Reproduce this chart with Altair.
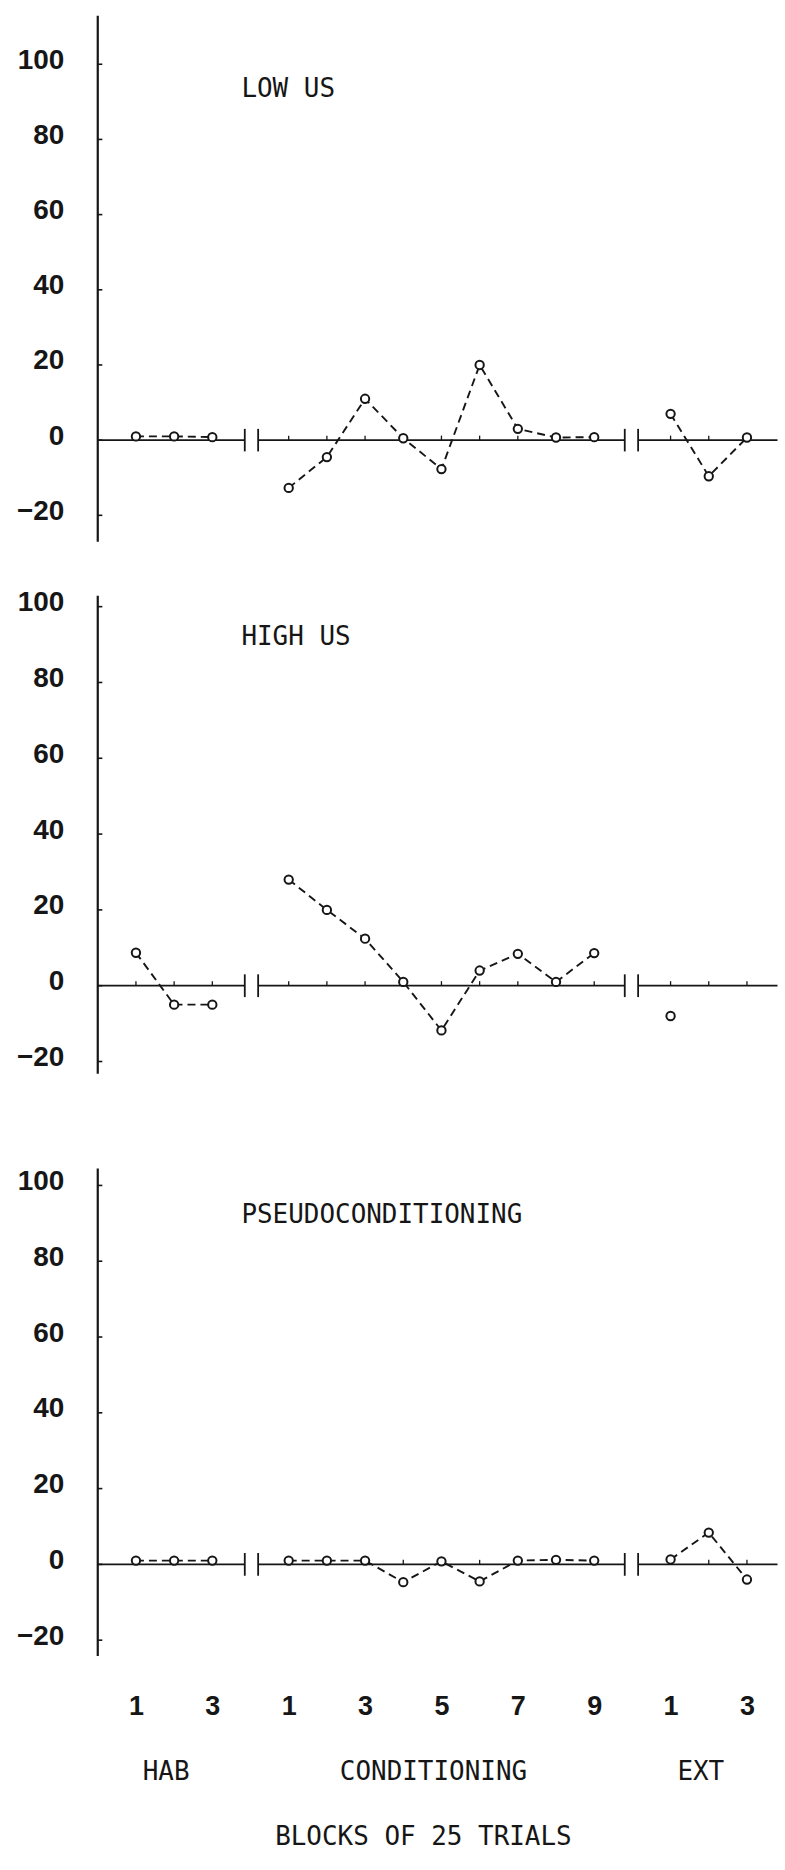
import altair as alt
import pandas as pd

# ---------------- data ----------------
panel_titles = ["LOW US", "HIGH US", "PSEUDOCONDITIONING"]
phases = ["HAB", "CONDITIONING", "EXT"]
hab_x = [0, 1, 2]
cond_x = [4, 5, 6, 7, 8, 9, 10, 11, 12]
ext_x = [14, 15, 16]

low_hab = [1.0, 1.0, 0.8]
low_cond = [-12.7, -4.5, 11.0, 0.5, -7.7, 20.0, 3.0, 0.7, 0.8]
low_ext = [7.0, -9.6, 0.7]

high_hab = [8.7, -5.0, -5.0]
high_cond = [28.0, 20.0, 12.4, 1.0, -11.8, 4.0, 8.4, 1.0, 8.6]
high_ext = [-8.0, None, None]

pseudo_hab = [1.0, 1.0, 1.0]
pseudo_cond = [1.0, 1.0, 1.0, -4.7, 0.8, -4.5, 1.0, 1.2, 1.0]
pseudo_ext = [1.3, 8.4, -4.0]

y_tick_values = [-20, 0, 20, 40, 60, 80, 100]
x_tick_positions = [0, 2, 4, 6, 8, 10, 12, 14, 16]
x_tick_labels = ["1", "3", "1", "3", "5", "7", "9", "1", "3"]
x_title = "BLOCKS OF 25 TRIALS"

# ---------------- layout / style ----------------
INK = "#161616"
DIGIT_FONT = "Liberation Sans"
TYPE_FONT = "DejaVu Sans Mono"
W = 688
X_DOMAIN = [-1, 16.97]
segments = [(-1, 2.85), (3.2, 12.8), (13.15, 16.8)]
breaks = [2.85, 3.2, 12.8, 13.15]

panels = [
    dict(title=panel_titles[0], series=(low_hab, low_cond, low_ext), height=560,
         ydom=[-32.4, 116.2], ytop=112.9, ybot=-27.0, title_y=86),
    dict(title=panel_titles[1], series=(high_hab, high_cond, high_ext), height=540,
         ydom=[-30.3, 111.8], ytop=102.9, ybot=-23.2, title_y=75),
    dict(title=panel_titles[2], series=(pseudo_hab, pseudo_cond, pseudo_ext), height=590,
         ydom=[-32.9, 122.4], ytop=104.5, ybot=-24.2, title_y=115),
]

label_expr = " : ".join(
    f"datum.value == {p} ? '{l}'" for p, l in zip(x_tick_positions, x_tick_labels)
) + " : ''"


def make_panel(cfg, bottom):
    yscale = alt.Scale(domain=cfg["ydom"], nice=False, zero=False)
    xscale = alt.Scale(domain=X_DOMAIN, nice=False, zero=False)
    yaxis = alt.Axis(values=y_tick_values, domain=False, ticks=False, tickSize=0,
                     grid=False, labelFont=DIGIT_FONT, labelFontSize=28,
                     labelFontWeight="bold", labelColor=INK, labelPadding=34,
                     labelOffset=-4, title=None)
    if bottom:
        xaxis = alt.Axis(values=x_tick_positions, labelExpr=label_expr, domain=False,
                         ticks=False, tickSize=0, grid=False, labelFont=DIGIT_FONT,
                         labelFontSize=27, labelFontWeight="bold", labelColor=INK,
                         labelPadding=18, labelBaseline="middle", labelAngle=0,
                         title=x_title, titleFont=TYPE_FONT, titleFontSize=26,
                         titleFontWeight="normal", titleColor=INK, titleX=326,
                         titleY=148, titleBaseline="middle", titleAlign="center")
    else:
        xaxis = None

    def X(f):
        return alt.X(f, type="quantitative", scale=xscale, axis=xaxis)

    def Y(f):
        return alt.Y(f, type="quantitative", scale=yscale, axis=yaxis)

    # y-axis line and inward ticks
    yline = alt.Chart(pd.DataFrame({"x": [X_DOMAIN[0]], "y": [cfg["ytop"]], "y2": [cfg["ybot"]]})).mark_rule(
        color=INK, strokeWidth=2.2).encode(x=X("x"), y=Y("y"), y2="y2")
    yt = pd.DataFrame({"x": X_DOMAIN[0], "x2": X_DOMAIN[0] + 0.12, "y": y_tick_values})
    yticks = alt.Chart(yt).mark_rule(color=INK, strokeWidth=1.6).encode(x=X("x"), x2="x2", y=Y("y"))

    # broken x axis at zero
    seg = pd.DataFrame({"x": [s[0] for s in segments], "x2": [s[1] for s in segments], "y": 0})
    xline = alt.Chart(seg).mark_rule(color=INK, strokeWidth=1.8).encode(x=X("x"), x2="x2", y=Y("y"))
    brk = pd.DataFrame({"x": breaks, "y": -3.0, "y2": 3.0})
    brks = alt.Chart(brk).mark_rule(color=INK, strokeWidth=1.8).encode(x=X("x"), y=Y("y"), y2="y2")
    xt = pd.DataFrame({"x": hab_x + cond_x + ext_x, "y": 0.0, "y2": 1.2})
    xticks = alt.Chart(xt).mark_rule(color=INK, strokeWidth=1.3).encode(x=X("x"), y=Y("y"), y2="y2")

    # data
    rows = []
    for ph, xs, vals in zip(phases, (hab_x, cond_x, ext_x), cfg["series"]):
        for xv, v in zip(xs, vals):
            if v is not None:
                rows.append({"x": xv, "y": v, "phase": ph})
    df = pd.DataFrame(rows)
    line = alt.Chart(df).mark_line(color=INK, strokeWidth=1.9, strokeDash=[8, 5]).encode(
        x=X("x"), y=Y("y"), detail="phase:N")
    pts = alt.Chart(df).mark_point(shape="circle", filled=True, fill="white", stroke=INK,
                                   strokeWidth=2, size=70, opacity=1).encode(x=X("x"), y=Y("y"))

    title = alt.Chart(pd.DataFrame({"t": [cfg["title"]]})).mark_text(
        font=TYPE_FONT, fontSize=26, color=INK, align="left", baseline="middle").encode(
        x=alt.value(144), y=alt.value(cfg["title_y"]), text="t:N")

    layers = [yline, yticks, xline, brks, xticks, line, pts, title]
    if bottom:
        ph_df = pd.DataFrame({"x": [1, 8, 15], "t": phases})
        phl = alt.Chart(ph_df).mark_text(font=TYPE_FONT, fontSize=26, color=INK, align="center",
                                         baseline="middle", dx=-8).encode(
            x=X("x"), y=alt.value(673), text="t:N")
        layers.append(phl)
    return alt.layer(*layers).properties(width=W, height=cfg["height"])


charts = [make_panel(c, i == 2) for i, c in enumerate(panels)]
chart = alt.vconcat(*charts, spacing=0, bounds="flush").properties(
    padding={"left": 16, "top": 0, "right": 0, "bottom": 0},
    background="white",
).configure_view(stroke="transparent")

chart.save("out.html", embed_options={"renderer": "svg", "actions": False})
